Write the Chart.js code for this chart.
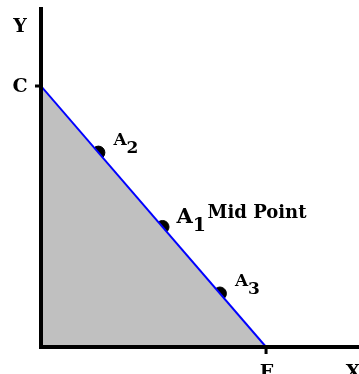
<!DOCTYPE html>
<html>
<head>
<meta charset="utf-8">
<script src="https://cdn.jsdelivr.net/npm/chart.js@4.4.0/dist/chart.umd.min.js"></script>
<style>
    html, body { margin: 0; padding: 0; background: #fff; overflow: hidden; }
    #wrap { width: 359px; height: 374px; position: relative; }
    canvas { display: block; }
</style>
</head>
<body>
<div id="wrap"><canvas id="chart"></canvas></div>
<script>
// Axis ranges (data units)
const X_MAX = 14.13;
const Y_MAX = 13.03;

// Budget line from C (on Y axis) to E (on X axis)
const lineX = [0, 10];
const lineY = [10, 0];

// Points on the line
const pointLabels = ['A2', 'A1', 'A3'];
const pointX = [2.55, 5.4, 7.95];
const pointY = [7.45, 4.6, 2.05];

const SERIF = '"DejaVu Serif", serif';

// Axes, tick marks at C and E, axis letters and point labels
const labelPlugin = {
    id: 'labels',
    afterDatasetsDraw(chart) {
        const ctx = chart.ctx;
        const area = chart.chartArea;
        ctx.save();
        ctx.strokeStyle = '#000';
        ctx.lineWidth = 4;
        ctx.beginPath();
        ctx.moveTo(area.left, area.top);
        ctx.lineTo(area.left, area.bottom + 2);
        ctx.moveTo(area.left - 2, area.bottom);
        ctx.lineTo(area.right, area.bottom);
        ctx.stroke();
        ctx.restore();
    },
    afterDraw(chart) {
        const ctx = chart.ctx;
        const xs = chart.scales.x;
        const ys = chart.scales.y;
        const area = chart.chartArea;
        const cx = xs.getPixelForValue(lineX[0]);
        const cy = ys.getPixelForValue(lineY[0]);
        const ex = xs.getPixelForValue(lineX[1]);
        const ey = ys.getPixelForValue(lineY[1]);

        ctx.save();
        ctx.fillStyle = '#000';
        ctx.strokeStyle = '#000';

        // tick marks
        ctx.lineWidth = 3;
        ctx.beginPath();
        ctx.moveTo(cx - 6, cy);
        ctx.lineTo(cx, cy);
        ctx.moveTo(ex, ey);
        ctx.lineTo(ex, ey + 7);
        ctx.stroke();

        // axis letters
        ctx.font = 'bold 19px ' + SERIF;
        ctx.textAlign = 'center';
        ctx.textBaseline = 'alphabetic';
        ctx.fillText('Y', area.left - 21, area.top + 25);
        ctx.fillText('C', cx - 21, cy + 6);
        ctx.fillText('E', ex + 1, ey + 31);
        ctx.fillText('X', area.right - 6, ey + 31);

        // point labels
        ctx.textAlign = 'left';
        pointLabels.forEach((name, i) => {
            const px = xs.getPixelForValue(pointX[i]);
            const py = ys.getPixelForValue(pointY[i]);
            const big = name === 'A1';
            ctx.font = 'bold ' + (big ? 21 : 17) + 'px ' + SERIF;
            const ax = px + (big ? 14 : 15);
            const ay = py + (big ? -4 : -8);
            ctx.fillText(name[0], ax, ay);
            const w = ctx.measureText(name[0]).width;
            ctx.font = 'bold ' + (big ? 19 : 17) + 'px ' + SERIF;
            ctx.fillText(name.slice(1), ax + w, ay + 8);
            if (big) {
                ctx.font = 'bold 18px ' + SERIF;
                ctx.fillText('Mid Point', px + 45, py - 9);
            }
        });
        ctx.restore();
    }
};

new Chart(document.getElementById('chart').getContext('2d'), {
    type: 'scatter',
    data: {
        datasets: [{
            label: 'line',
            type: 'line',
            data: lineX.map((x, i) => ({ x: x, y: lineY[i] })),
            borderColor: '#0000ff',
            borderWidth: 2,
            backgroundColor: '#c0c0c0',
            fill: 'origin',
            pointRadius: 0,
            tension: 0
        }, {
            label: 'points',
            data: pointX.map((x, i) => ({ x: x, y: pointY[i] })),
            backgroundColor: '#000',
            borderColor: '#000',
            pointRadius: 6.5,
            pointHoverRadius: 6.5
        }]
    },
    options: {
        responsive: true,
        maintainAspectRatio: false,
        animation: false,
        events: [],
        layout: {
            autoPadding: false,
            padding: { left: 41, top: 7, right: 0, bottom: 27 }
        },
        plugins: {
            legend: { display: false },
            tooltip: { enabled: false }
        },
        scales: {
            x: { type: 'linear', min: 0, max: X_MAX, display: false },
            y: { type: 'linear', min: 0, max: Y_MAX, display: false }
        }
    },
    plugins: [labelPlugin]
});
</script>
</body>
</html>
